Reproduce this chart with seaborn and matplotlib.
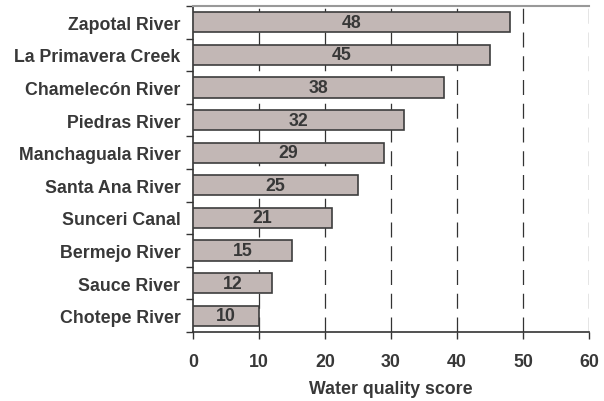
import matplotlib
matplotlib.use("Agg")
import matplotlib.pyplot as plt
import seaborn as sns
import pandas as pd
import numpy as np

rivers = ["Zapotal River", "La Primavera Creek", "Chamelecón River", "Piedras River",
          "Manchaguala River", "Santa Ana River", "Sunceri Canal", "Bermejo River",
          "Sauce River", "Chotepe River"]
scores = [48, 45, 38, 32, 29, 25, 21, 15, 12, 10]
xticks = [0, 10, 20, 30, 40, 50, 60]

sns.set_theme(style="white")
plt.rcParams["font.family"] = ["Liberation Sans", "DejaVu Sans"]
plt.rcParams["font.weight"] = "bold"

TXT = "#383838"
df = pd.DataFrame({"river": rivers, "score": scores})

fig = plt.figure(figsize=(6.04, 4.02), dpi=100)
ax = fig.add_axes([193 / 604, 1 - 333 / 402, (589 - 193) / 604, (333 - 7) / 402])

sns.barplot(data=df, y="river", x="score", orient="h", color="#c2b7b5",
            saturation=1, width=0.62, edgecolor="#3d3d3d", linewidth=1.2, ax=ax, zorder=3)

ax.set_xlim(0, 60)
ax.set_ylim(len(rivers) - 0.5, -0.5)
ax.set_xticks(xticks)
ax.set_xticklabels([str(t) for t in xticks], fontsize=12.8, fontweight="bold", color=TXT)
ax.set_yticks(range(len(rivers)))
ax.set_yticklabels(rivers, fontsize=12.8, fontweight="bold", color=TXT)
ax.tick_params(axis="y", length=0, pad=9)
ax.set_yticks(np.arange(-0.5, len(rivers)), minor=True)
ax.tick_params(axis="y", which="minor", left=True, length=5, width=1, color="#333333")
ax.tick_params(axis="x", bottom=True, length=5, width=1, color="#333333", pad=10)

for x in xticks[1:]:
    ax.axvline(x, color="#333333", linestyle=(0, (12, 7)), linewidth=0.9, zorder=1)

for i, v in enumerate(scores):
    ax.text(v / 2, i, str(v), ha="center", va="center", fontsize=12.8,
            fontweight="bold", color=TXT, zorder=4)

ax.set_xlabel("Water quality score", fontsize=12.8, fontweight="bold", color=TXT, labelpad=7)
ax.set_ylabel("")

for side in ["left", "bottom"]:
    ax.spines[side].set_color("#333333")
    ax.spines[side].set_linewidth(1.2)
ax.spines["top"].set_color("#999999")
ax.spines["top"].set_linewidth(1.5)
ax.spines["right"].set_visible(False)

fig.savefig("out.png", dpi=100)
